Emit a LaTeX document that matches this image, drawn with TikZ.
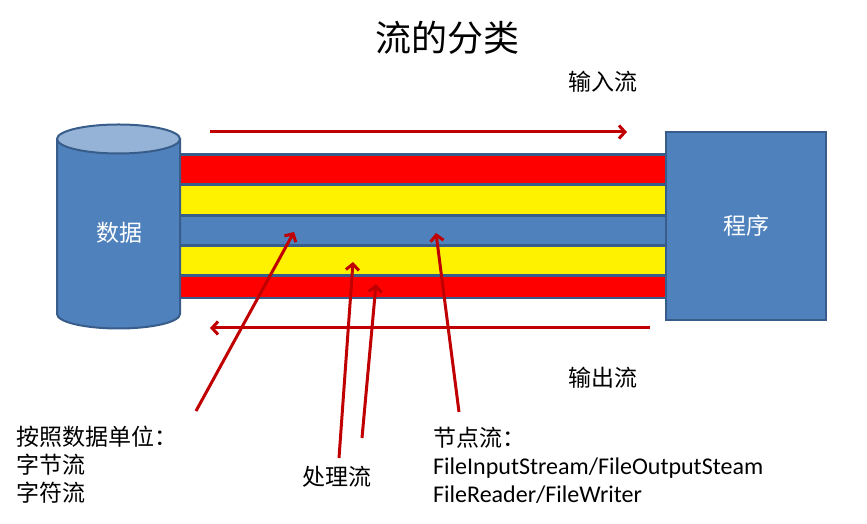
\documentclass[tikz,border=0pt]{standalone}
\usepackage{fontspec}
\setmainfont{Carlito}
\newfontfamily\cjk{Noto Sans CJK SC}
\usetikzlibrary{arrows.meta}
\definecolor{boxblue}{HTML}{4F81BD}
\definecolor{boxedge}{HTML}{385D8A}
\definecolor{toplight}{HTML}{95B3D7}
\definecolor{arrowred}{HTML}{C00000}
\tikzset{
  flowarrow/.style={draw=arrowred, line width=3pt, -{Straight Barb[length=6pt,width=13pt,line width=3pt]}},
  lbl/.style={inner sep=0pt, font=\cjk\fontsize{23}{28}\selectfont},
  whitelbl/.style={inner sep=0pt, text=white, font=\cjk\fontsize{23}{28}\selectfont},
}
\begin{document}
\begin{tikzpicture}[x=1pt,y=1pt]
\useasboundingbox (0,0) rectangle (867,524);
% band
\fill[boxedge] (178,225) rectangle (667,371);
\fill[red] (180,341) rectangle (667,368);
\fill[yellow] (180,310) rectangle (667,338);
\fill[boxblue] (180,280) rectangle (667,307);
\fill[yellow] (180,250) rectangle (667,277);
\fill[red] (180,227) rectangle (667,247);
% cylinder
\filldraw[fill=boxblue, draw=boxedge, line width=2pt]
  (57,385) -- (57,210) arc[start angle=180,end angle=360,x radius=61.5,y radius=14.5] -- (180,385) -- cycle;
\filldraw[fill=toplight, draw=boxedge, line width=2pt] (118.5,385) ellipse[x radius=61.5,y radius=14.5];
\node[whitelbl] (data) at (119,291) {数据};
% program box
\node[draw=boxedge, fill=boxblue, line width=2.5pt, minimum width=160pt, minimum height=188pt, inner sep=0pt] (prog) at (746,298) {};
\node[whitelbl] (progl) at (746,298) {程序};
% title and flow labels
\node[inner sep=0pt, font=\cjk\fontsize{36}{40}\selectfont] (title) at (447,486) {流的分类};
\node[lbl] (inlbl) at (603,442) {输入流};
\node[lbl] (outlbl) at (603,146) {输出流};
% in/out arrows
\coordinate (inA) at (210,392);
\coordinate (inB) at (627,392);
\coordinate (outA) at (650,196);
\coordinate (outB) at (210,196);
\draw[flowarrow] (inA) -- (inB);
\draw[flowarrow] (outA) -- (outB);
% pointers
\coordinate (p1s) at (196,113); \coordinate (p1e) at (294,292);
\coordinate (p2s) at (339,66);  \coordinate (p2e) at (353,262);
\coordinate (p3s) at (362,86);  \coordinate (p3e) at (376,240);
\coordinate (p4s) at (459,112); \coordinate (p4e) at (436,291);
\draw[flowarrow] (p1s) -- (p1e);
\draw[flowarrow] (p2s) -- (p2e);
\draw[flowarrow] (p3s) -- (p3e);
\draw[flowarrow] (p4s) -- (p4e);
% captions
\node[lbl, anchor=north west, align=left] (unit) at (16,98) {按照数据单位：\\字节流\\字符流};
\node[lbl] (proc) at (337,47) {处理流};
\node[inner sep=0pt, anchor=north west, align=left, font=\fontsize{24}{28}\selectfont] (node) at (433,97)
  {{\cjk\fontsize{23}{28}\selectfont 节点流：}\\FileInputStream/FileOutputSteam\\FileReader/FileWriter};
\end{tikzpicture}
\end{document}
